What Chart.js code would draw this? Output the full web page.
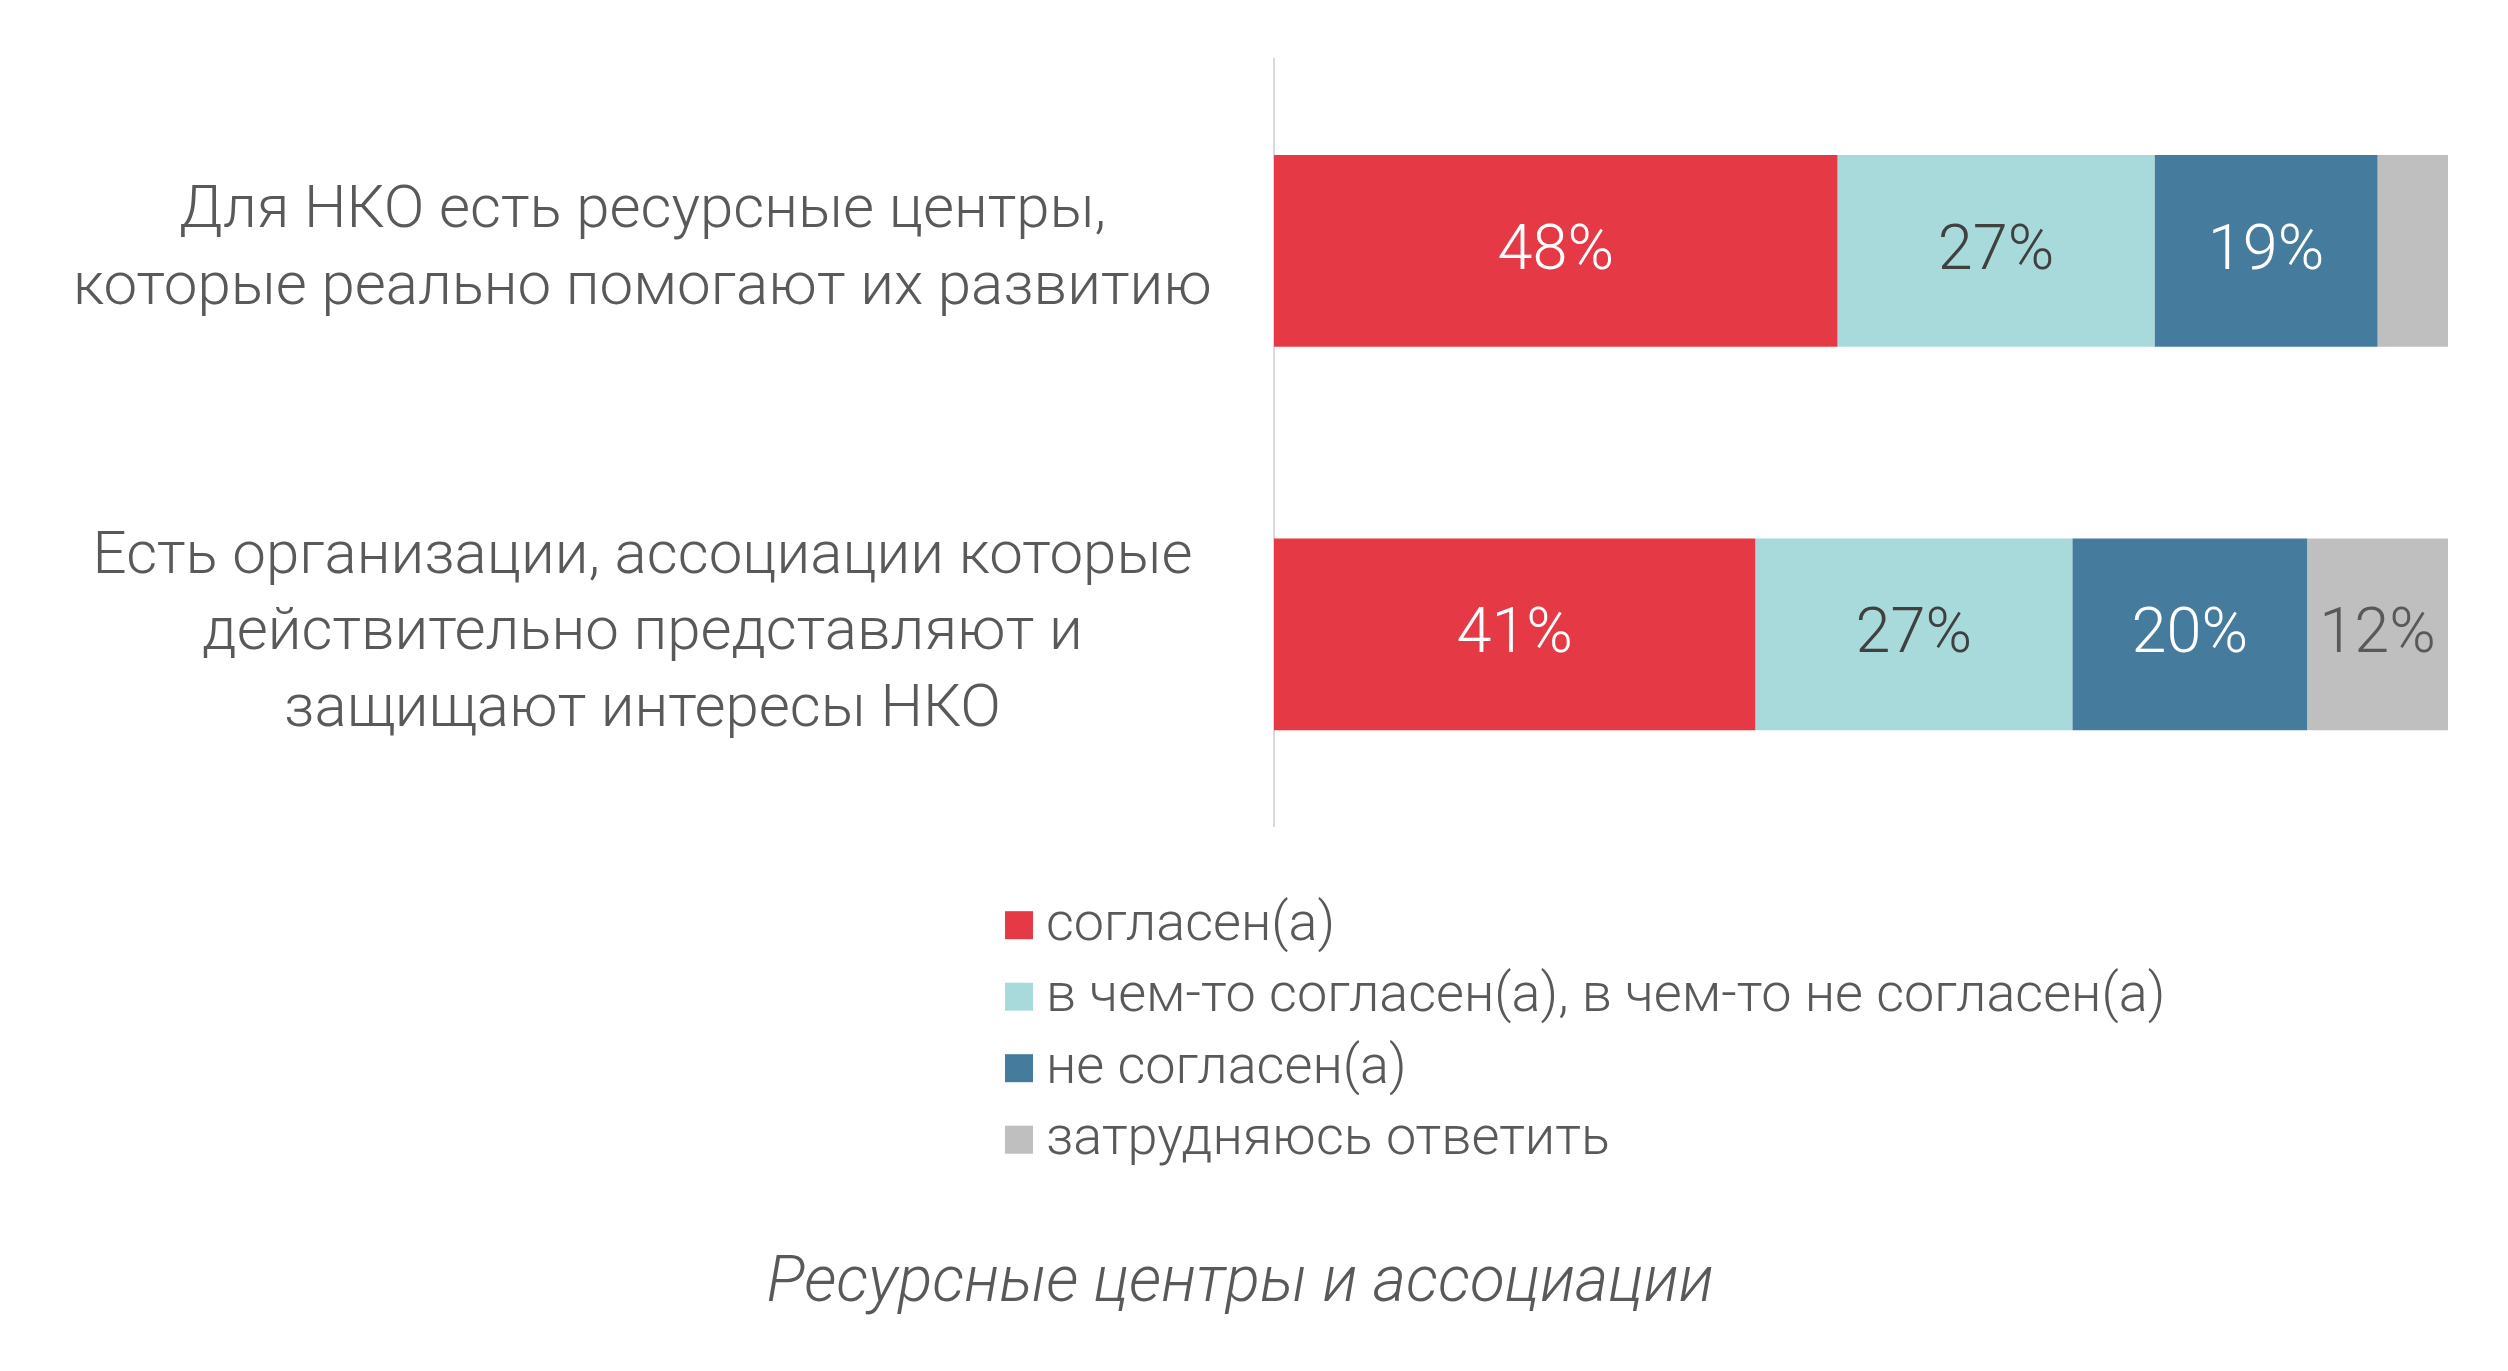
<!DOCTYPE html>
<html>
<head>
<meta charset="utf-8">
<script src="https://cdn.jsdelivr.net/npm/chart.js@4.4.1/dist/chart.umd.min.js"></script>
<style>
    html, body { margin: 0; padding: 0; background: #fff; }
</style>
</head>
<body>
<canvas id="myChart" width="2508" height="1371"></canvas>
<script>
// data
const categories = [
    ['Для НКО есть ресурсные центры,', 'которые реально помогают их развитию'],
    ['Есть организации, ассоциации которые', 'действительно представляют и', 'защищают интересы НКО']
];
const seriesNames = ['согласен(а)', 'в чем-то согласен(а), в чем-то не согласен(а)', 'не согласен(а)', 'затрудняюсь ответить'];
const agree = [48, 41];
const partly = [27, 27];
const disagree = [19, 20];
const hardToSay = [6, 12];

const colors = ['#E63946', '#A8DADC', '#457B9D', '#BFBFBF'];
const labelColors = ['#ffffff', '#404040', '#ffffff', '#595959'];
const textColor = '#595959';
const fontFamily = 'Roboto, "Liberation Sans", sans-serif';

const seriesValues = [agree, partly, disagree, hardToSay];

// percent labels in the middle of each segment
const valueLabels = {
    id: 'valueLabels',
    afterDatasetsDraw(chart) {
        const ctx = chart.ctx;
        ctx.save();
        ctx.font = '300 63px ' + fontFamily;
        ctx.textAlign = 'center';
        ctx.textBaseline = 'middle';
        chart.data.datasets.forEach((ds, i) => {
            chart.getDatasetMeta(i).data.forEach((bar, j) => {
                const v = ds.data[j];
                if (v < 10) return; // too narrow, no label in the original
                const p = bar.getProps(['x', 'y', 'base'], true);
                ctx.fillStyle = labelColors[i];
                ctx.fillText(v + '%', (p.x + p.base) / 2, p.y + 2);
            });
        });
        ctx.restore();
    }
};

// legend as a single column under the bars
const listLegend = {
    id: 'listLegend',
    afterDraw(chart) {
        const ctx = chart.ctx;
        const top = chart.chartArea.bottom + 99;
        ctx.save();
        ctx.font = '300 54px ' + fontFamily;
        ctx.textBaseline = 'middle';
        ctx.textAlign = 'left';
        chart.data.datasets.forEach((ds, i) => {
            const y = top + i * 71.5;
            ctx.fillStyle = ds.backgroundColor;
            ctx.fillRect(1005, y - 14, 28, 28);
            ctx.fillStyle = textColor;
            ctx.fillText(ds.label, 1046, y + 1);
        });
        ctx.restore();
    }
};

const ctx = document.getElementById('myChart').getContext('2d');
const myChart = new Chart(ctx, {
    type: 'bar',
    data: {
        labels: categories,
        datasets: seriesNames.map((name, i) => ({
            label: name,
            data: seriesValues[i],
            backgroundColor: colors[i],
            borderWidth: 0,
            barPercentage: 0.5,
            categoryPercentage: 1
        }))
    },
    options: {
        indexAxis: 'y',
        responsive: false,
        animation: false,
        layout: {
            padding: { top: 59, right: 60, left: 32, bottom: 0 }
        },
        scales: {
            x: {
                stacked: true,
                min: 0,
                max: 100,
                display: false
            },
            y: {
                stacked: true,
                grid: { display: false, drawTicks: false },
                border: { display: true, color: '#d9d9d9', width: 2 },
                afterFit: (scale) => {
                    scale.width = 1242;
                    scale.paddingTop = 0;
                    scale.paddingBottom = 0;
                },
                ticks: {
                    crossAlign: 'center',
                    padding: 62,
                    color: textColor,
                    font: { family: fontFamily, size: 60, weight: '300', lineHeight: 1.28 }
                }
            }
        },
        plugins: {
            legend: { display: false },
            tooltip: { enabled: false },
            title: {
                display: true,
                position: 'bottom',
                text: 'Ресурсные центры и ассоциации',
                color: textColor,
                font: { family: fontFamily, size: 64, weight: '300', style: 'italic', lineHeight: 1.2 },
                padding: { top: 420, bottom: 48 }
            }
        }
    },
    plugins: [valueLabels, listLegend]
});
</script>
</body>
</html>
